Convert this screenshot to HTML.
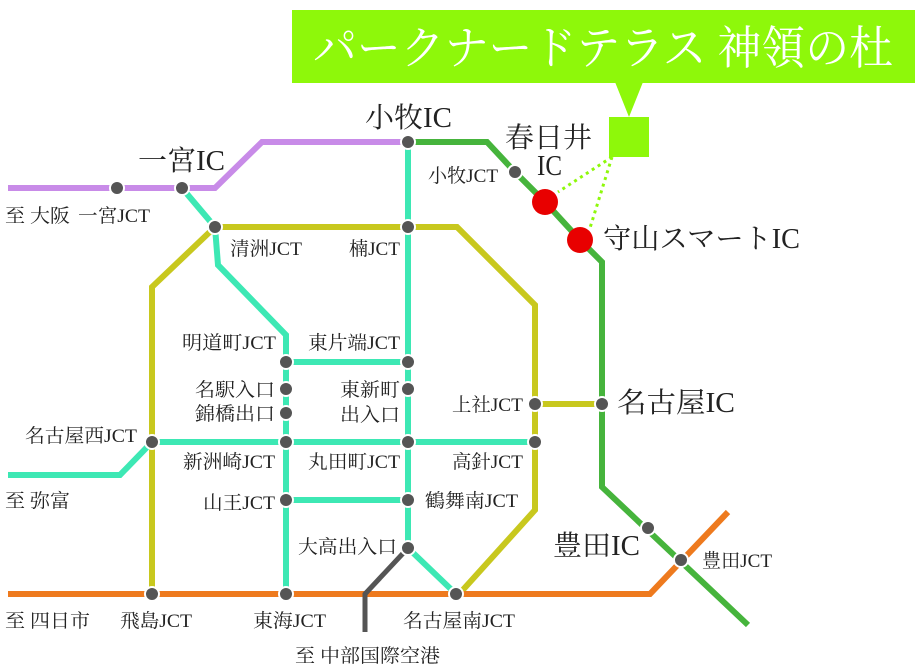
<!DOCTYPE html>
<html><head><meta charset="utf-8"><style>
html,body{margin:0;padding:0;background:#fff;}
svg{display:block;}
text{font-family:"Liberation Serif","Noto Serif CJK SC","Noto Serif CJK JP",serif;fill:#222;}
.s{font-size:19px;}
.b{font-size:28px;}
</style></head><body>
<svg width="920" height="672" viewBox="0 0 920 672" xmlns="http://www.w3.org/2000/svg">
<rect x="292" y="10" width="623" height="73" fill="#8ef80a"/>
<polygon points="615,82 643,82 629,117" fill="#8ef80a"/>
<rect x="609" y="117" width="40" height="40" fill="#8ef80a"/>
<text x="313" y="64" font-size="46" style="fill:#fff" textLength="580" lengthAdjust="spacingAndGlyphs">パークナードテラス 神領の杜</text>
<line x1="612" y1="157" x2="558" y2="192" stroke="#8ef80a" stroke-width="3" stroke-dasharray="3,4"/>
<line x1="612" y1="157" x2="590" y2="228" stroke="#8ef80a" stroke-width="3" stroke-dasharray="3,4"/>
<g fill="none" stroke-width="6" stroke-linejoin="miter">
<polyline points="8,188 215,188 262,142 408,142" stroke="#c88be8"/>
<polyline points="408,142 487,142 515,172 545,202 580,240 602,262 602,487 748,625" stroke="#46b43c"/>
<polyline points="152,594 152,287 215,227 457,227 535,305 535,510 461,592" stroke="#c8c81e"/>
<line x1="535" y1="404" x2="602" y2="404" stroke="#c8c81e"/>
<polyline points="8,594 650,594 728,512" stroke="#ee7a1e"/>
<polyline points="408,548 365,594 365,632" stroke="#555" stroke-width="5"/>
<polyline points="182,188 215,227 218,265 286,335 286,594" stroke="#3de8b4"/>
<polyline points="408,142 408,548 456,594" stroke="#3de8b4"/>
<line x1="286" y1="362" x2="408" y2="362" stroke="#3de8b4"/>
<line x1="152" y1="442" x2="535" y2="442" stroke="#3de8b4"/>
<line x1="286" y1="500" x2="408" y2="500" stroke="#3de8b4"/>
<polyline points="152,442 120,475 8,475" stroke="#3de8b4"/>
</g>
<g fill="#555" stroke="#fff" stroke-width="2">
<circle cx="117" cy="188" r="7"/><circle cx="182" cy="188" r="7"/>
<circle cx="408" cy="142" r="7"/><circle cx="515" cy="172" r="7"/>
<circle cx="215" cy="227" r="7"/><circle cx="408" cy="227" r="7"/>
<circle cx="286" cy="362" r="7"/><circle cx="408" cy="362" r="7"/>
<circle cx="286" cy="389" r="7"/><circle cx="408" cy="389" r="7"/>
<circle cx="286" cy="413" r="7"/>
<circle cx="152" cy="442" r="7"/><circle cx="286" cy="442" r="7"/><circle cx="408" cy="442" r="7"/><circle cx="535" cy="442" r="7"/>
<circle cx="535" cy="404" r="7"/><circle cx="602" cy="404" r="7"/>
<circle cx="286" cy="500" r="7"/><circle cx="408" cy="500" r="7"/>
<circle cx="408" cy="548" r="7"/>
<circle cx="152" cy="594" r="7"/><circle cx="286" cy="594" r="7"/><circle cx="456" cy="594" r="7"/>
<circle cx="648" cy="528" r="7"/><circle cx="681" cy="560" r="7"/>
</g>
<circle cx="545" cy="202" r="13" fill="#e80000"/>
<circle cx="580" cy="240" r="13" fill="#e80000"/>
<g class="b" lengthAdjust="spacingAndGlyphs">
<text x="365" y="127" textLength="87" lengthAdjust="spacingAndGlyphs">小牧IC</text>
<text x="138" y="170" textLength="87" lengthAdjust="spacingAndGlyphs">一宮IC</text>
<text x="505" y="147" textLength="87" lengthAdjust="spacingAndGlyphs">春日井</text>
<text x="537" y="175" textLength="25" lengthAdjust="spacingAndGlyphs">IC</text>
<text x="603" y="248" textLength="197" lengthAdjust="spacingAndGlyphs">守山スマートIC</text>
<text x="617" y="412" textLength="118" lengthAdjust="spacingAndGlyphs">名古屋IC</text>
<text x="553" y="555" textLength="87" lengthAdjust="spacingAndGlyphs">豊田IC</text>
</g>
<g class="s">
<text x="5" y="222" textLength="65" lengthAdjust="spacingAndGlyphs">至 大阪</text>
<text x="78" y="222" textLength="72" lengthAdjust="spacingAndGlyphs">一宮JCT</text>
<text x="428" y="182" textLength="70" lengthAdjust="spacingAndGlyphs">小牧JCT</text>
<text x="230" y="255" textLength="72" lengthAdjust="spacingAndGlyphs">清洲JCT</text>
<text x="349" y="255" textLength="51" lengthAdjust="spacingAndGlyphs">楠JCT</text>
<text x="182" y="349" textLength="94" lengthAdjust="spacingAndGlyphs">明道町JCT</text>
<text x="308" y="349" textLength="92" lengthAdjust="spacingAndGlyphs">東片端JCT</text>
<text x="195" y="396" textLength="80" lengthAdjust="spacingAndGlyphs">名駅入口</text>
<text x="195" y="420" textLength="80" lengthAdjust="spacingAndGlyphs">錦橋出口</text>
<text x="340" y="396" textLength="60" lengthAdjust="spacingAndGlyphs">東新町</text>
<text x="340" y="421" textLength="60" lengthAdjust="spacingAndGlyphs">出入口</text>
<text x="452" y="411" textLength="71" lengthAdjust="spacingAndGlyphs">上社JCT</text>
<text x="25" y="442" textLength="112" lengthAdjust="spacingAndGlyphs">名古屋西JCT</text>
<text x="183" y="468" textLength="92" lengthAdjust="spacingAndGlyphs">新洲崎JCT</text>
<text x="308" y="468" textLength="92" lengthAdjust="spacingAndGlyphs">丸田町JCT</text>
<text x="452" y="468" textLength="71" lengthAdjust="spacingAndGlyphs">高針JCT</text>
<text x="5" y="507" textLength="65" lengthAdjust="spacingAndGlyphs">至 弥富</text>
<text x="203" y="509" textLength="72" lengthAdjust="spacingAndGlyphs">山王JCT</text>
<text x="425" y="507" textLength="93" lengthAdjust="spacingAndGlyphs">鶴舞南JCT</text>
<text x="298" y="553" textLength="99" lengthAdjust="spacingAndGlyphs">大高出入口</text>
<text x="702" y="567" textLength="70" lengthAdjust="spacingAndGlyphs">豊田JCT</text>
<text x="5" y="627" textLength="85" lengthAdjust="spacingAndGlyphs">至 四日市</text>
<text x="120" y="627" textLength="72" lengthAdjust="spacingAndGlyphs">飛島JCT</text>
<text x="253" y="627" textLength="73" lengthAdjust="spacingAndGlyphs">東海JCT</text>
<text x="403" y="627" textLength="112" lengthAdjust="spacingAndGlyphs">名古屋南JCT</text>
<text x="295" y="662" textLength="145" lengthAdjust="spacingAndGlyphs">至 中部国際空港</text>
</g>
</svg>
</body></html>
